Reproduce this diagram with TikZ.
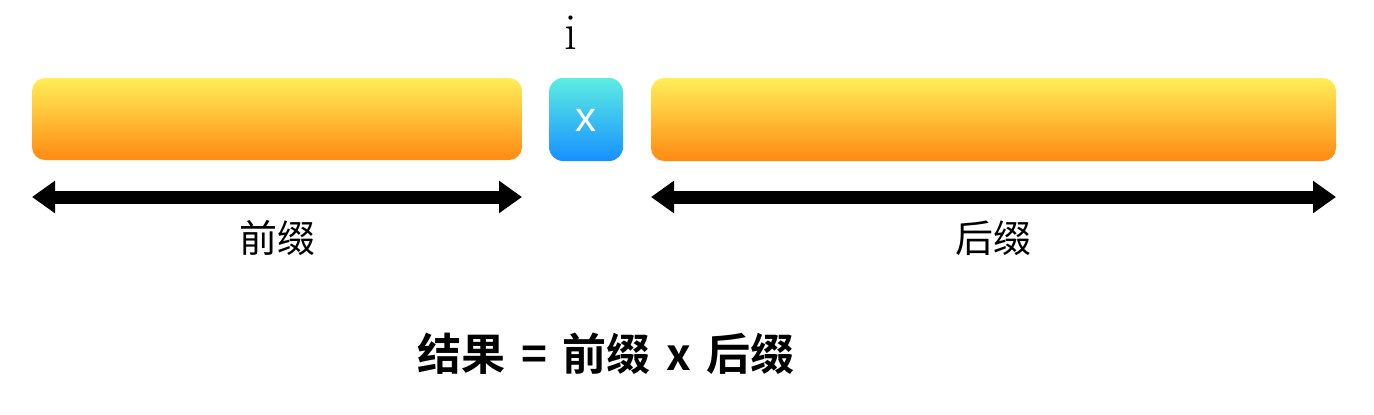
\documentclass[tikz,border=0pt]{standalone}
\usepackage{fontspec}
\newfontfamily\cjk{Noto Sans CJK SC}
\newfontfamily\cjkb{Noto Sans CJK SC Bold}
\newfontfamily\sans{Liberation Sans}
\usetikzlibrary{arrows.meta}
\definecolor{ytop}{HTML}{FFEE58}
\definecolor{ybot}{HTML}{FF8A12}
\definecolor{btop}{HTML}{5CEDE2}
\definecolor{bbot}{HTML}{1790FF}
\begin{document}
\begin{tikzpicture}[x=1pt,y=-1pt,
  bar/.style={rounded corners=13pt,top color=ytop,bottom color=ybot,draw=none},
  xbox/.style={rounded corners=14pt,top color=btop,bottom color=bbot,draw=none},
  span/.style={line width=13pt,{Triangle[length=23pt,width=31pt]}-{Triangle[length=23pt,width=31pt]}}]
\useasboundingbox (0,0) rectangle (1374,415);
\shade[bar] (32,78) rectangle (522,160);
\shade[xbox] (549,78) rectangle (623,161);
\shade[bar] (651,78) rectangle (1336,161);
\node[text=white,font=\sans\fontsize{42}{42}\selectfont] (x) at (586,120) {x};
\node[font=\fontsize{52}{52}\selectfont] (i) at (571,33) {i};
\coordinate (la) at (32,197);
\coordinate (lb) at (522,197);
\coordinate (ra) at (651,197);
\coordinate (rb) at (1336,197);
\draw[span] (la) -- (lb);
\draw[span] (ra) -- (rb);
\node[font=\cjk\fontsize{38}{38}\selectfont] (pre) at (277,238) {前缀};
\node[font=\cjk\fontsize{38}{38}\selectfont] (suf) at (993,238) {后缀};
\node[font=\cjkb\fontsize{44}{44}\selectfont] (res) at (606,354) {结果\hspace{0.35em}=\hspace{0.35em}前缀\hspace{0.35em}x\hspace{0.35em}后缀};
\end{tikzpicture}
\end{document}
